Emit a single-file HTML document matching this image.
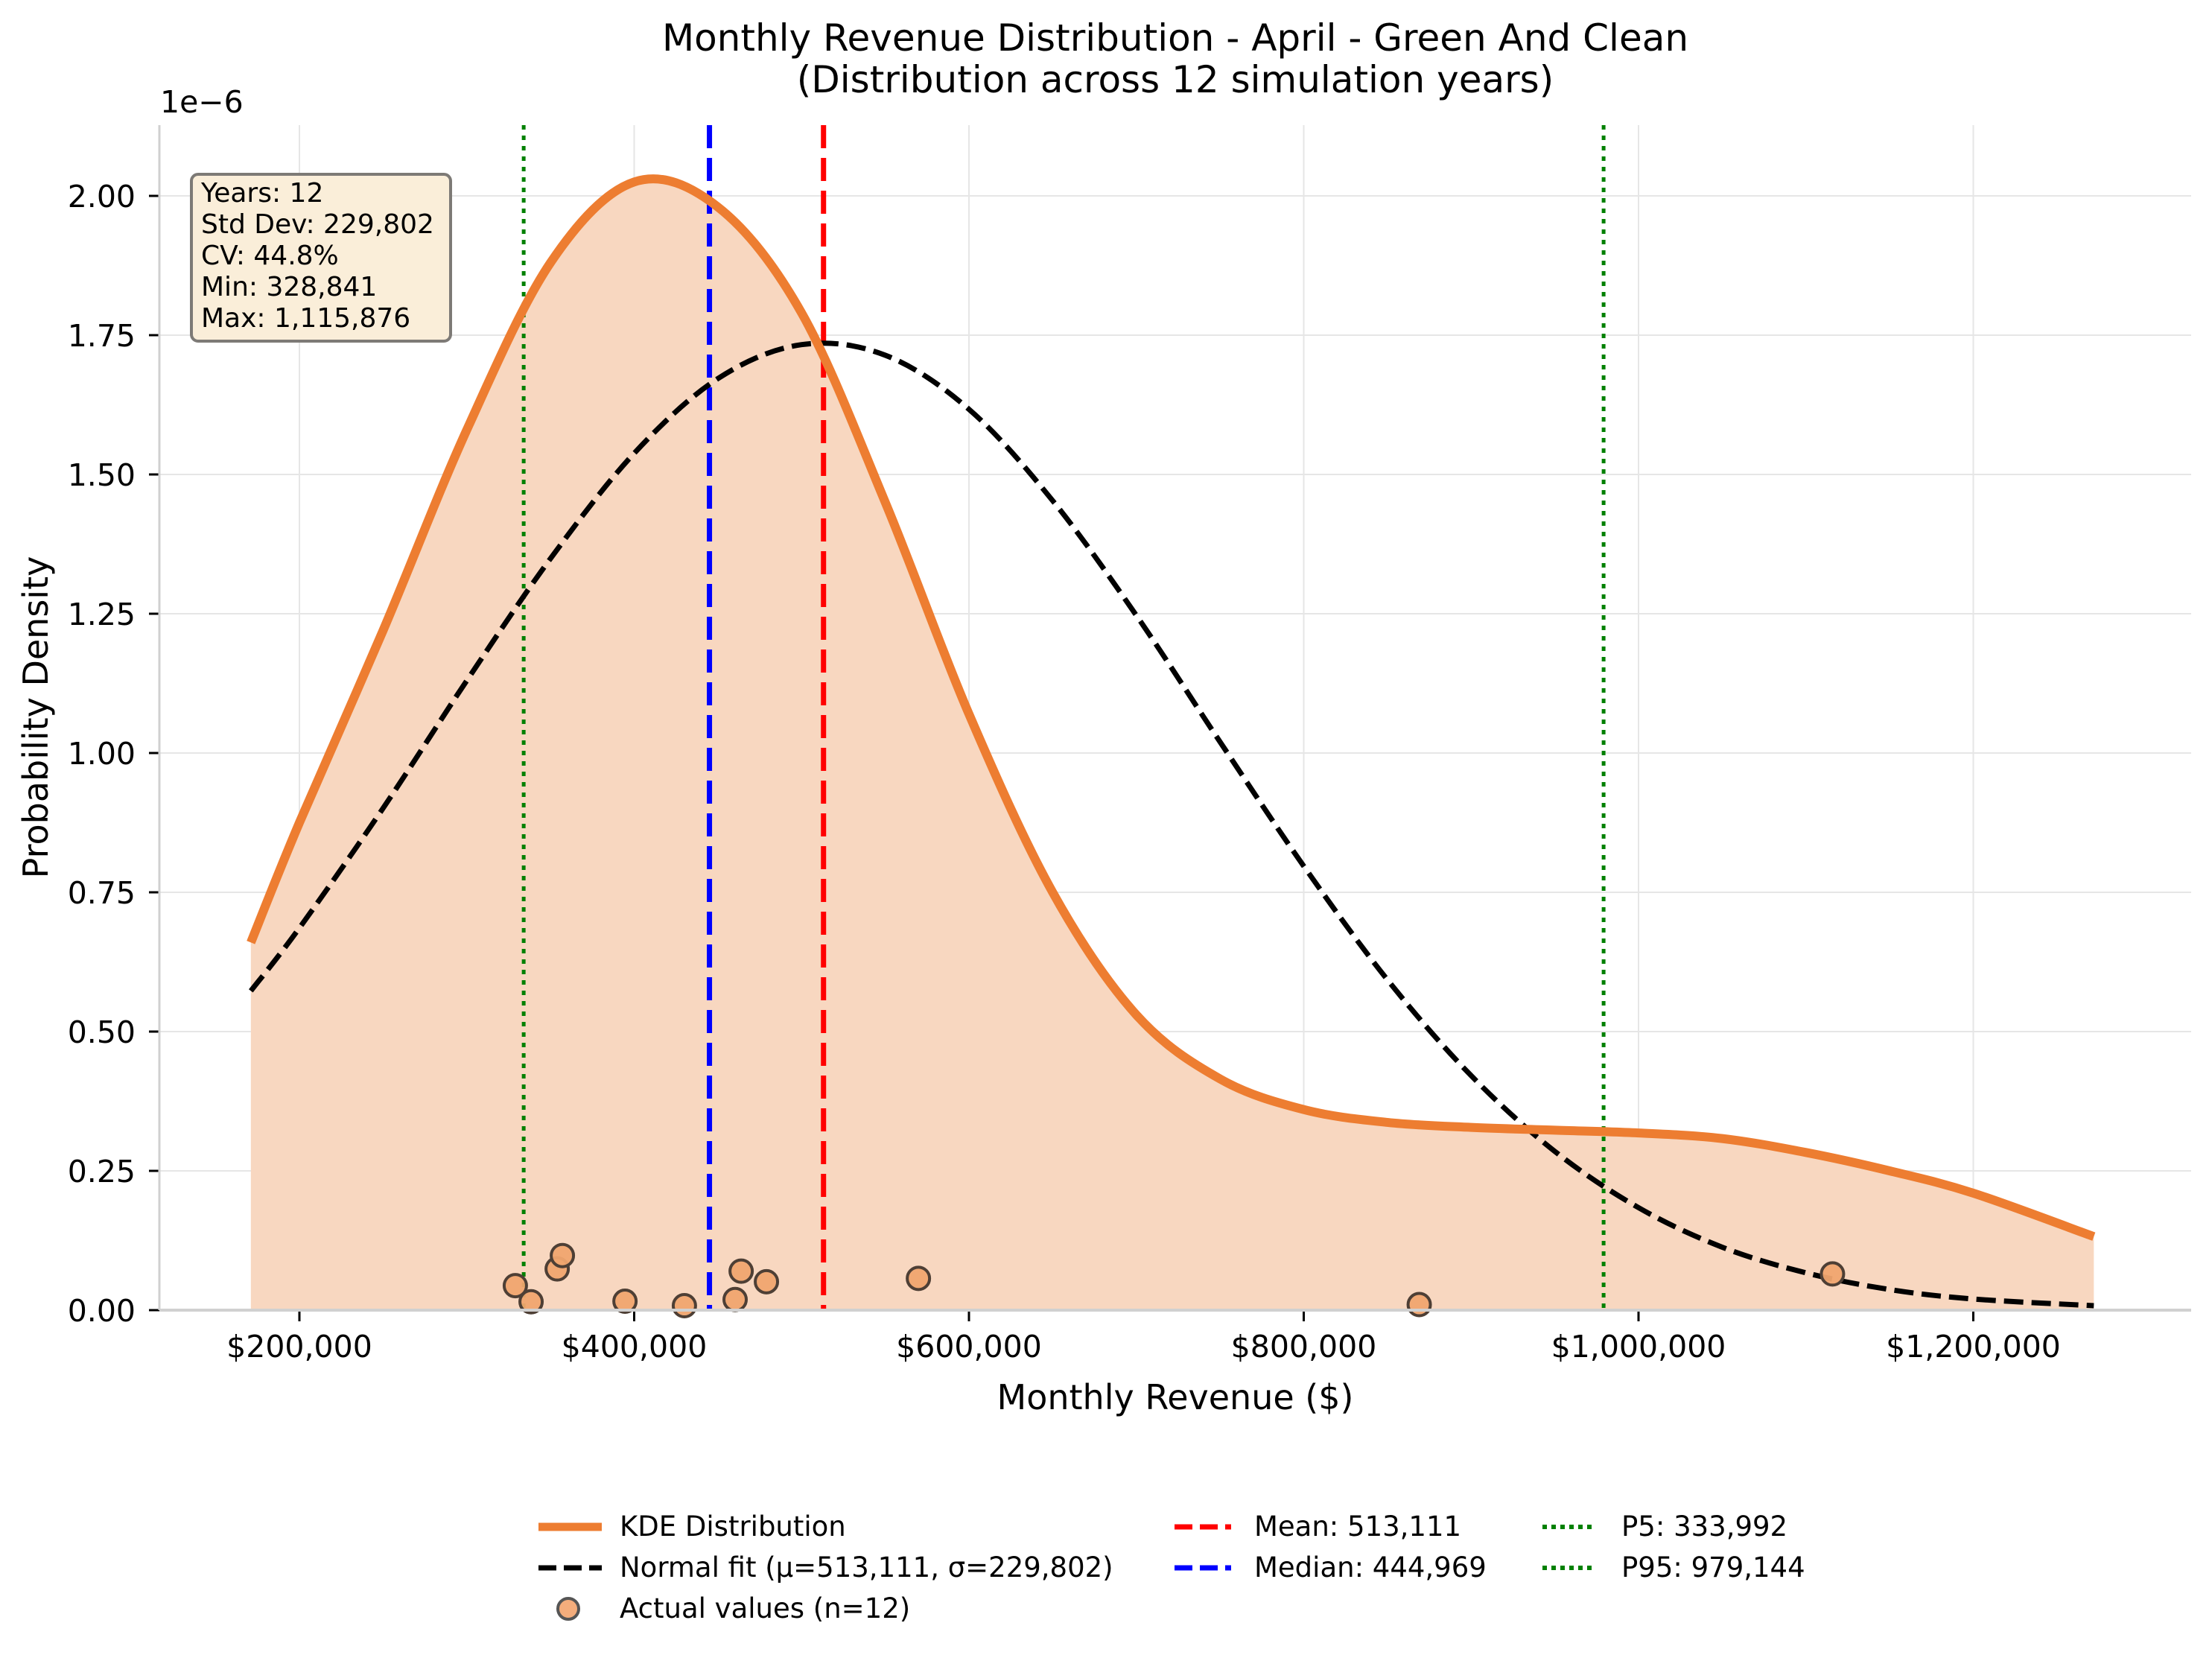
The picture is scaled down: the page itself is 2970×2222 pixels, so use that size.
<!DOCTYPE html>
<html><head><meta charset="utf-8"><style>
html,body{margin:0;padding:0;background:#fff;}
svg{display:block;font-family:"DejaVu Sans","Liberation Sans",sans-serif;}
</style></head><body>
<svg id="chart" width="2970" height="2222" viewBox="0 0 2970 2222" xmlns="http://www.w3.org/2000/svg">
<rect width="2970" height="2222" fill="#fff"/>
<g id="grid"></g>
<g id="plot"></g>
<g id="axes"></g>
<text x="1578" y="68" font-size="50" text-anchor="middle">Monthly Revenue Distribution - April - Green And Clean</text>
<text x="1578" y="124" font-size="50" text-anchor="middle">(Distribution across 12 simulation years)</text>
<text x="0" y="0" font-size="46" text-anchor="middle" transform="translate(64,963) rotate(-90)">Probability Density</text>
<text x="1578" y="1892" font-size="46" text-anchor="middle">Monthly Revenue ($)</text>
<text x="215" y="151" font-size="41">1e−6</text>
<g>
<rect x="257" y="234" width="348" height="224" rx="9" fill="#faeed9" stroke="#7d7a76" stroke-width="4"/>
<text x="270" y="271" font-size="36">Years: 12</text>
<text x="270" y="313" font-size="36">Std Dev: 229,802</text>
<text x="270" y="355" font-size="36">CV: 44.8%</text>
<text x="270" y="397" font-size="36">Min: 328,841</text>
<text x="270" y="439" font-size="36">Max: 1,115,876</text>
</g>
<g font-size="37">
<line x1="723" y1="2050" x2="808" y2="2050" stroke="#ed7d31" stroke-width="11"/>
<text x="832" y="2062">KDE Distribution</text>
<line x1="723" y1="2105" x2="808" y2="2105" stroke="#000" stroke-width="7" stroke-dasharray="24,10"/>
<text x="832" y="2117">Normal fit (μ=513,111, σ=229,802)</text>
<circle cx="763" cy="2160" r="14" fill="#f4ad7c" stroke="#555" stroke-width="4"/>
<text x="832" y="2172">Actual values (n=12)</text>
<line x1="1577" y1="2050" x2="1653" y2="2050" stroke="#ff0000" stroke-width="7" stroke-dasharray="24,10"/>
<text x="1684" y="2062">Mean: 513,111</text>
<line x1="1577" y1="2105" x2="1653" y2="2105" stroke="#0000ff" stroke-width="7" stroke-dasharray="24,10"/>
<text x="1684" y="2117">Median: 444,969</text>
<line x1="2071" y1="2050" x2="2140" y2="2050" stroke="#008000" stroke-width="6" stroke-dasharray="6,6"/>
<text x="2177" y="2062">P5: 333,992</text>
<line x1="2071" y1="2105" x2="2140" y2="2105" stroke="#008000" stroke-width="6" stroke-dasharray="6,6"/>
<text x="2177" y="2117">P95: 979,144</text>
</g>
</svg>
<script>
const xTicks = [200000, 400000, 600000, 800000, 1000000, 1200000];
const xTickLabels = ["$200,000", "$400,000", "$600,000", "$800,000", "$1,000,000", "$1,200,000"];
const yTicks = [0, 0.25, 0.5, 0.75, 1.0, 1.25, 1.5, 1.75, 2.0];
const yTickLabels = ["0.00", "0.25", "0.50", "0.75", "1.00", "1.25", "1.50", "1.75", "2.00"];
const kdeX = [171000, 200000, 250000, 300000, 350000, 400000, 450000, 500000, 550000, 600000, 650000, 700000, 750000, 800000, 850000, 900000, 950000, 1000000, 1050000, 1100000, 1150000, 1200000, 1272000];
const kdeY = [0.66, 0.875, 1.22, 1.58, 1.88, 2.025, 1.98, 1.79, 1.45, 1.07, 0.75, 0.53, 0.415, 0.36, 0.337, 0.328, 0.323, 0.318, 0.308, 0.283, 0.25, 0.21, 0.132];
const normX = [171000, 200000, 250000, 300000, 350000, 400000, 450000, 500000, 550000, 600000, 650000, 700000, 750000, 800000, 850000, 900000, 950000, 1000000, 1050000, 1100000, 1150000, 1200000, 1272000];
const normY = [0.573, 0.686, 0.901, 1.130, 1.349, 1.538, 1.672, 1.733, 1.714, 1.617, 1.453, 1.247, 1.020, 0.797, 0.593, 0.421, 0.285, 0.184, 0.113, 0.067, 0.037, 0.020, 0.008];
const pointX = [329000, 338400, 354000, 357100, 394500, 430000, 460300, 463900, 479000, 569800, 869000, 1115876];
const pointY = [0.044, 0.015, 0.074, 0.098, 0.016, 0.008, 0.019, 0.070, 0.051, 0.057, 0.010, 0.065];
const refValues = [333992, 444969, 513111, 979144];
const refNames = ["p5-line", "median-line", "mean-line", "p95-line"];

const L = 214, R = 2942, T = 168, B = 1759;
function xs(v){ return 402 + (v - 200000) * 449.5 / 200000; }
function ys(d){ return 1759 - d * 748; }
const NS = "http://www.w3.org/2000/svg";
function mk(tag, parent, attrs){ const e = document.createElementNS(NS, tag); for (const k in attrs) e.setAttribute(k, attrs[k]); parent.appendChild(e); return e; }
function smooth(px, py){
  let d = "M" + px[0] + "," + py[0];
  for (let i = 0; i < px.length - 1; i++){
    const x0 = px[Math.max(i-1,0)], y0 = py[Math.max(i-1,0)];
    const x1 = px[i], y1 = py[i], x2 = px[i+1], y2 = py[i+1];
    const x3 = px[Math.min(i+2,px.length-1)], y3 = py[Math.min(i+2,px.length-1)];
    d += " C" + (x1 + (x2 - x0)/6) + "," + (y1 + (y2 - y0)/6) + " " + (x2 - (x3 - x1)/6) + "," + (y2 - (y3 - y1)/6) + " " + x2 + "," + y2;
  }
  return d;
}
const grid = document.getElementById("grid");
const plot = document.getElementById("plot");
const axes = document.getElementById("axes");

xTicks.forEach((v, i) => {
  const g = mk("line", grid, {x1: xs(v), x2: xs(v), y1: T, y2: B, stroke: "#e6e6e6", "stroke-width": 2});
  
  
  const t = mk("line", axes, {x1: xs(v), x2: xs(v), y1: B, y2: B + 15, stroke: "#000", "stroke-width": 3});
  
  
  const lb = mk("text", axes, {x: xs(v), y: 1822, "font-size": 41, "text-anchor": "middle"});
  lb.textContent = xTickLabels[i];
  
  
});
yTicks.forEach((v, i) => {
  const g = mk("line", grid, {x1: L, x2: R, y1: ys(v), y2: ys(v), stroke: "#e6e6e6", "stroke-width": 2});
  
  
  const t = mk("line", axes, {x1: L - 14, x2: L, y1: ys(v), y2: ys(v), stroke: "#000", "stroke-width": 3});
  
  
  const lb = mk("text", axes, {x: 182, y: ys(v) + 15, "font-size": 41, "text-anchor": "end"});
  lb.textContent = yTickLabels[i];
  
  
});
const sl = mk("line", axes, {x1: L, x2: L, y1: T, y2: B, stroke: "#d0d0d0", "stroke-width": 3});


const sb = mk("line", axes, {x1: L, x2: R, y1: B, y2: B, stroke: "#d0d0d0", "stroke-width": 4});



const kx = kdeX.map(xs), ky = kdeY.map(ys);
const kPath = smooth(kx, ky);
const fill = mk("path", plot, {d: kPath + " L" + kx[kx.length-1] + "," + B + " L" + kx[0] + "," + B + " Z", fill: "#f8d7c0", stroke: "none"});



const refColors = ["#008000", "#0000ff", "#ff0000", "#008000"];
const refDash = ["6,8", "31,13", "31,13", "6,8"];
refValues.forEach((v, i) => {
  const l = mk("line", plot, {x1: xs(v), x2: xs(v), y1: T, y2: B, stroke: refColors[i], "stroke-width": i==0||i==3 ? 5 : 7, "stroke-dasharray": refDash[i]});
  
  
});

const nl = mk("path", plot, {d: smooth(normX.map(xs), normY.map(ys)), fill: "none", stroke: "#000", "stroke-width": 7, "stroke-dasharray": "26,11"});



const kl = mk("path", plot, {d: kPath, fill: "none", stroke: "#ed7d31", "stroke-width": 12});



pointX.forEach((v, i) => {
  const c = mk("circle", plot, {cx: xs(v), cy: ys(pointY[i]), r: 15, fill: "#f0a56f", stroke: "#4e3f35", "stroke-width": 4, "fill-opacity": 0.95});
  
  
});
</script>
</body></html>
